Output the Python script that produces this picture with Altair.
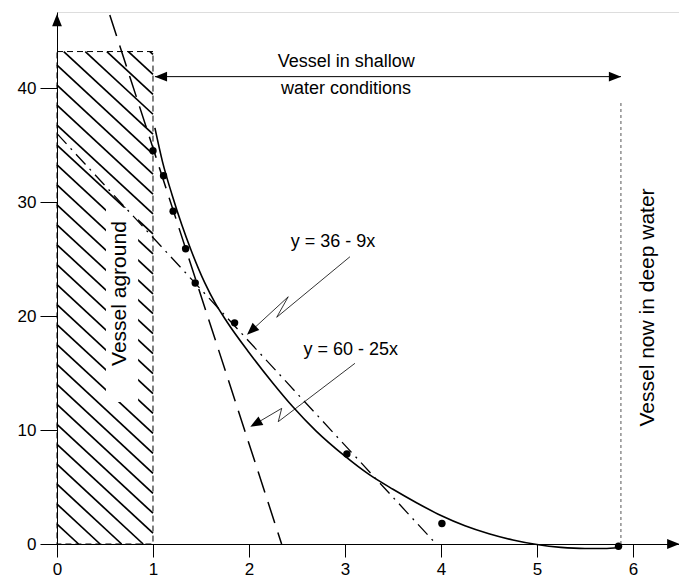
import altair as alt
import pandas as pd

FONT = "Liberation Sans"

# ---- data ----
pt_x = [1.00, 1.11, 1.21, 1.34, 1.44, 1.85, 3.02, 4.01, 5.85]
pt_y = [34.5, 32.3, 29.2, 25.9, 22.9, 19.4, 7.9, 1.8, -0.2]

curve_x = [1.02, 1.10, 1.20, 1.30, 1.40, 1.54, 1.65, 1.77, 2.00, 2.25, 2.45, 2.70, 3.00,
           3.25, 3.50, 3.75, 4.00, 4.25, 4.50, 4.75, 5.00, 5.25, 5.50, 5.70, 5.85]
curve_y = [36.5, 33.5, 30.6, 28.0, 25.7, 22.9, 21.1, 19.5, 16.8, 14.1, 12.1, 9.9, 7.7,
           6.1, 4.8, 3.6, 2.5, 1.6, 0.9, 0.35, -0.05, -0.3, -0.4, -0.4, -0.3]

lin9_x = [0.0, 3.95]     # y = 36 - 9x
lin9_y = [36.0, 0.0]
lin25_x = [0.55, 2.34]   # y = 60 - 25x
lin25_y = [46.4, 0.0]

ground_x = [0.0, 1.0]    # vessel aground zone
ground_y = [0.0, 43.2]
hatch_slope = 7.8
hatch_step = 1.75

deep_x = 5.875
deep_top = 38.7

span_x = [1.02, 5.875]
span_y = 41.0

leader_id = [1, 1, 1, 1, 2, 2, 2, 2]
leader_x = [3.052, 2.289, 2.409, 2.026, 3.104, 2.305, 2.341, 2.069]
leader_y = [25.20, 19.89, 21.69, 18.72, 15.85, 10.73, 11.90, 10.55]

head_x = [2.026, 2.069, 1.083, 5.813, 0.0, 6.42]
head_y = [18.72, 10.55, 41.0, 41.0, 45.96, 0.0]
head_a = [227, 240, 270, 90, 0, 90]

x_ticks = [0, 1, 2, 3, 4, 5, 6]
y_ticks = [0, 10, 20, 30, 40]

# ---- tables ----
pts = pd.DataFrame({"x": pt_x, "y": pt_y})
curve = pd.DataFrame({"x": curve_x, "y": curve_y, "o": range(len(curve_x))})
l9 = pd.DataFrame({"x": lin9_x, "y": lin9_y})
l25 = pd.DataFrame({"x": lin25_x, "y": lin25_y})

rows = []
x0, x1 = ground_x
y0, y1 = ground_y
c = hatch_step
while c < y1 + hatch_slope * (x1 - x0):
    xs = max(x0, (c - y1) / hatch_slope)
    xe_ = min(x1, c / hatch_slope)
    if xs < xe_:
        rows.append({"x": xs, "y": c - hatch_slope * xs, "x2": xe_, "y2": c - hatch_slope * xe_})
    c += hatch_step
hatch = pd.DataFrame(rows)

rect = pd.DataFrame({"x": [x0], "x2": [x1], "y": [y0], "y2": [y1]})
gap = pd.DataFrame({"x": [0.51], "x2": [0.845], "y": [12.45], "y2": [29.5]})
deep = pd.DataFrame({"x": [deep_x], "y": [0.0], "y2": [deep_top]})
span = pd.DataFrame({"x": [span_x[0]], "x2": [span_x[1]], "y": [span_y]})
leaders = pd.DataFrame({"g": leader_id, "x": leader_x, "y": leader_y, "o": list(range(8))})
heads = pd.DataFrame({"x": head_x, "y": head_y, "a": head_a})

XS = alt.Scale(domain=[0, 6.48], nice=False, zero=False)
YS = alt.Scale(domain=[0, 46.67], nice=False, zero=False)

x_axis = alt.Axis(values=x_ticks, title=None, grid=False, tickSize=13, labelPadding=4,
                  labelFontSize=17, labelFont=FONT, labelColor="black", domainColor="black",
                  tickColor="black", domainWidth=1, tickWidth=1, labelFlush=False, format="d")
y_axis = alt.Axis(values=y_ticks, title=None, grid=False, tickSize=17, labelPadding=4,
                  labelFontSize=17, labelFont=FONT, labelColor="black", domainColor="black",
                  tickColor="black", domainWidth=1, tickWidth=1, labelFlush=False, format="d")


def X(f="x"):
    return alt.X(f, type="quantitative", scale=XS, axis=x_axis)


def Y(f="y"):
    return alt.Y(f, type="quantitative", scale=YS, axis=y_axis)


hatch_l = alt.Chart(hatch).mark_rule(color="black", strokeWidth=1.7).encode(
    x=X(), y=Y(), x2="x2", y2="y2")
gap_l = alt.Chart(gap).mark_rect(color="white").encode(x=X(), x2="x2", y=Y(), y2="y2")
rect_l = alt.Chart(rect).mark_rect(fillOpacity=0, stroke="black", strokeWidth=1,
                                    strokeDash=[6, 4]).encode(x=X(), x2="x2", y=Y(), y2="y2")
l25_l = alt.Chart(l25).mark_line(color="black", strokeWidth=1.5, strokeDash=[22, 10]).encode(
    x=X(), y=Y())
l9_l = alt.Chart(l9).mark_line(color="black", strokeWidth=1.3, strokeDash=[14, 6, 2, 6]).encode(
    x=X(), y=Y())
curve_l = alt.Chart(curve).mark_line(color="black", strokeWidth=1.6, interpolate="monotone").encode(
    x=X(), y=Y(), order="o:Q")
pts_l = alt.Chart(pts).mark_circle(color="black", size=55, opacity=1).encode(x=X(), y=Y())
deep_l = alt.Chart(deep).mark_rule(color="#555555", strokeWidth=1, strokeDash=[3, 3]).encode(
    x=X(), y=Y(), y2="y2")
span_l = alt.Chart(span).mark_rule(color="black", strokeWidth=1).encode(x=X(), x2="x2", y=Y())
lead_l = alt.Chart(leaders).mark_line(color="black", strokeWidth=0.8).encode(
    x=X(), y=Y(), detail="g:N", order="o:Q")
heads_l = alt.Chart(heads).mark_point(shape="M0,-1L-0.8,1L0.8,1Z", filled=True, color="black",
                                      opacity=1, size=150).encode(
    x=X(), y=Y(), angle=alt.Angle("a:Q", scale=None))


def label(txt, x, y, size=18, angle=0):
    df = pd.DataFrame({"x": [x], "y": [y], "t": [txt]})
    return alt.Chart(df).mark_text(font=FONT, fontSize=size, color="black", align="center",
                                   baseline="middle", angle=angle).encode(x=X(), y=Y(), text="t:N")


texts = [
    label("Vessel in shallow", 3.014, 42.3),
    label("water conditions", 3.01, 39.9),
    label("y = 36 - 9x", 2.875, 26.5),
    label("y = 60 - 25x", 3.06, 17.0),
    label("Vessel aground", 0.66, 21.97, size=21, angle=270),
    label("Vessel now in deep water", 6.156, 20.75, size=21, angle=270),
]

chart = alt.layer(
    hatch_l, gap_l, rect_l, l25_l, l9_l, curve_l, pts_l, deep_l, span_l, lead_l, heads_l, *texts
).properties(
    width=622, height=532,
    autosize=alt.AutoSizeParams(type="none"),
    padding={"left": 49, "top": 4, "right": 0, "bottom": 38},
).configure_view(stroke=None).configure(background="white")

chart.save("out.html", embed_options={"renderer": "svg", "actions": False})
